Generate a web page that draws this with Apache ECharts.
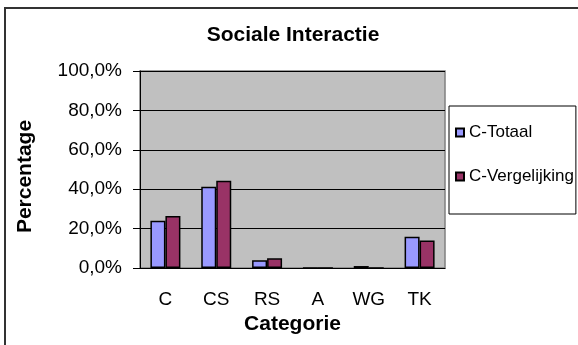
<!DOCTYPE html>
<html>
<head>
<meta charset="utf-8">
<script src="https://cdn.jsdelivr.net/npm/echarts@6/dist/echarts.min.js"></script>
<style>
  html, body { margin: 0; padding: 0; background: #fff; }
  #chart { width: 578px; height: 345px; }
</style>
</head>
<body>
<div id="chart"></div>
<script>
// Categories and percentages per group
const categories = ['C', 'CS', 'RS', 'A', 'WG', 'TK'];
const totaal = [24.0, 41.3, 3.9, 0, 1.0, 15.9];
const vergelijking = [26.4, 44.3, 4.9, 0, 0, 14.0];
const seriesNames = ['C-Totaal', 'C-Vergelijking'];
const yTicks = [0, 20, 40, 60, 80, 100];

const FONT = 'Liberation Sans, Arial, sans-serif';
const chart = echarts.init(document.getElementById('chart'), null, { renderer: 'canvas' });

chart.setOption({
  backgroundColor: '#ffffff',
  animation: false,
  title: {
    text: 'Sociale Interactie',
    left: 288,
    textAlign: 'center',
    top: 20,
    textStyle: { fontFamily: FONT, fontSize: 21, fontWeight: 'bold', color: '#000' }
  },
  graphic: [{
    type: 'rect',
    shape: { x: 5, y: 8, width: 600, height: 360 },
    style: { fill: 'none', stroke: '#333333', lineWidth: 2 },
    silent: true,
    z: -10
  }],
  legend: {
    orient: 'vertical',
    left: 449,
    top: 106,
    data: seriesNames,
    icon: 'rect',
    itemWidth: 8,
    itemHeight: 8,
    itemGap: 27,
    padding: [18, 2, 29, 6],
    borderColor: '#000',
    borderWidth: 1,
    textStyle: { fontFamily: FONT, fontSize: 17, color: '#000' }
  },
  grid: {
    left: 140,
    top: 71,
    width: 305,
    height: 197,
    show: true,
    backgroundColor: '#C0C0C0',
    borderColor: '#808080',
    borderWidth: 1.5
  },
  xAxis: {
    type: 'category',
    data: categories,
    name: 'Categorie',
    nameLocation: 'middle',
    nameGap: 41,
    nameTextStyle: { fontFamily: FONT, fontSize: 21, fontWeight: 'bold', color: '#000' },
    axisLine: { lineStyle: { color: '#000', width: 1 } },
    axisTick: { length: 5, lineStyle: { color: '#000' } },
    axisLabel: { fontFamily: FONT, fontSize: 19, color: '#000', margin: 22 }
  },
  yAxis: {
    type: 'value',
    min: 0,
    max: 100,
    interval: 20,
    name: 'Percentage',
    nameLocation: 'middle',
    nameGap: 104,
    nameTextStyle: {
      fontFamily: FONT, fontSize: 21, fontWeight: 'bold', color: '#000',
      padding: [0, 14, 0, 0]
    },
    axisLine: { show: true, lineStyle: { color: '#000', width: 1 } },
    axisTick: { show: true, length: 7, lineStyle: { color: '#000' } },
    axisLabel: {
      fontFamily: FONT, fontSize: 19, color: '#000', margin: 18,
      formatter: v => yTicks.includes(v) ? v.toFixed(1).replace('.', ',') + '%' : ''
    },
    splitLine: { show: true, lineStyle: { color: '#000', width: 1 } }
  },
  series: [
    {
      name: seriesNames[0],
      type: 'bar',
      data: totaal,
      barWidth: 15,
      barGap: '0%',
      itemStyle: { color: '#9999FF', borderColor: '#000', borderWidth: 1.5 }
    },
    {
      name: seriesNames[1],
      type: 'bar',
      data: vergelijking,
      barWidth: 15,
      barGap: '0%',
      itemStyle: { color: '#993366', borderColor: '#000', borderWidth: 1.5 }
    }
  ]
});
</script>
</body>
</html>
